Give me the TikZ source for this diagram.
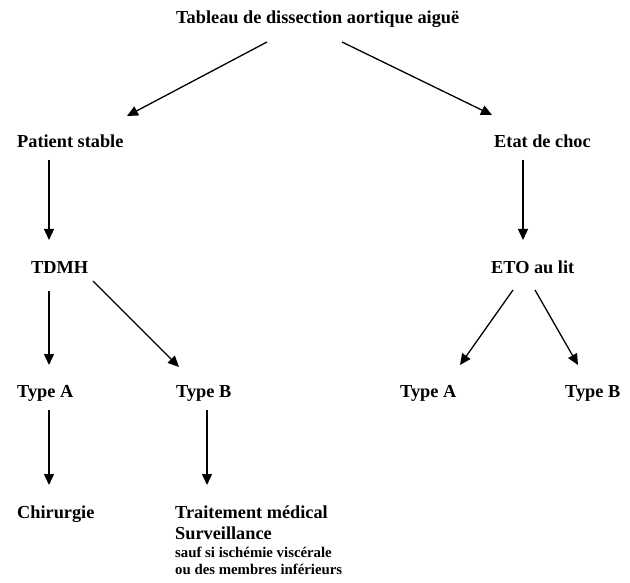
\documentclass[tikz,border=0pt]{standalone}
\usepackage{fontspec}
\setmainfont{Liberation Serif}
\usetikzlibrary{arrows.meta,calc}
\begin{document}
\begin{tikzpicture}[x=1pt,y=-1pt,
  lbl/.style={anchor=base west,inner sep=0pt,font=\fontsize{18.3}{21}\selectfont\bfseries},
  sml/.style={anchor=base west,inner sep=0pt,font=\fontsize{14.8}{16}\selectfont\bfseries},
  arr/.style={line width=1.3pt,-{Triangle[length=11pt,width=10pt]}}]
\useasboundingbox (0,0) rectangle (630,583);
\node[lbl] (title) at (176,24) {Tableau de dissection aortique aiguë};
\node[lbl] (ps) at (17,148) {Patient stable};
\node[lbl] (etat) at (494,148) {Etat de choc};
\node[lbl] (tdmh) at (31,273) {TDMH};
\node[lbl] (eto) at (491,273) {ETO au lit};
\node[lbl] (ta) at (17,397) {Type A};
\node[lbl] (tb) at (176,397) {Type B};
\node[lbl] (ta2) at (400,397) {Type A};
\node[lbl] (tb2) at (565,397) {Type B};
\node[lbl] (chir) at (17,518) {Chirurgie};
\node[lbl] (trait) at (175,518) {Traitement médical};
\node[lbl] (surv) at (175,539) {Surveillance};
\node[sml] (sauf) at (175,557) {sauf si ischémie viscérale};
\node[sml] (ou) at (175,574) {ou des membres inférieurs};
\draw[arr] ($(title.base west)+(91,18)$) -- ($(ps.base west)+(110,-32)$);
\draw[arr] ($(title.base west)+(166,18)$) -- ($(etat.base west)+(-2,-33)$);
\draw[arr] ($(ps.base west)+(32,12)$) -- ($(tdmh.base west)+(18,-33)$);
\draw[arr] ($(etat.base west)+(29,12)$) -- ($(eto.base west)+(32,-33)$);
\draw[arr] ($(tdmh.base west)+(18,18)$) -- ($(ta.base west)+(32,-32)$);
\draw[arr] ($(tdmh.base west)+(62,8)$) -- ($(tb.base west)+(3,-30)$);
\draw[arr] ($(ta.base west)+(32,13)$) -- ($(chir.base west)+(32,-33)$);
\draw[arr] ($(tb.base west)+(31,13)$) -- ($(trait.base west)+(32,-33)$);
\draw[arr] ($(eto.base west)+(22,17)$) -- ($(ta2.base west)+(60,-32)$);
\draw[arr] ($(eto.base west)+(44,17)$) -- ($(tb2.base west)+(13,-32)$);
\end{tikzpicture}
\end{document}
